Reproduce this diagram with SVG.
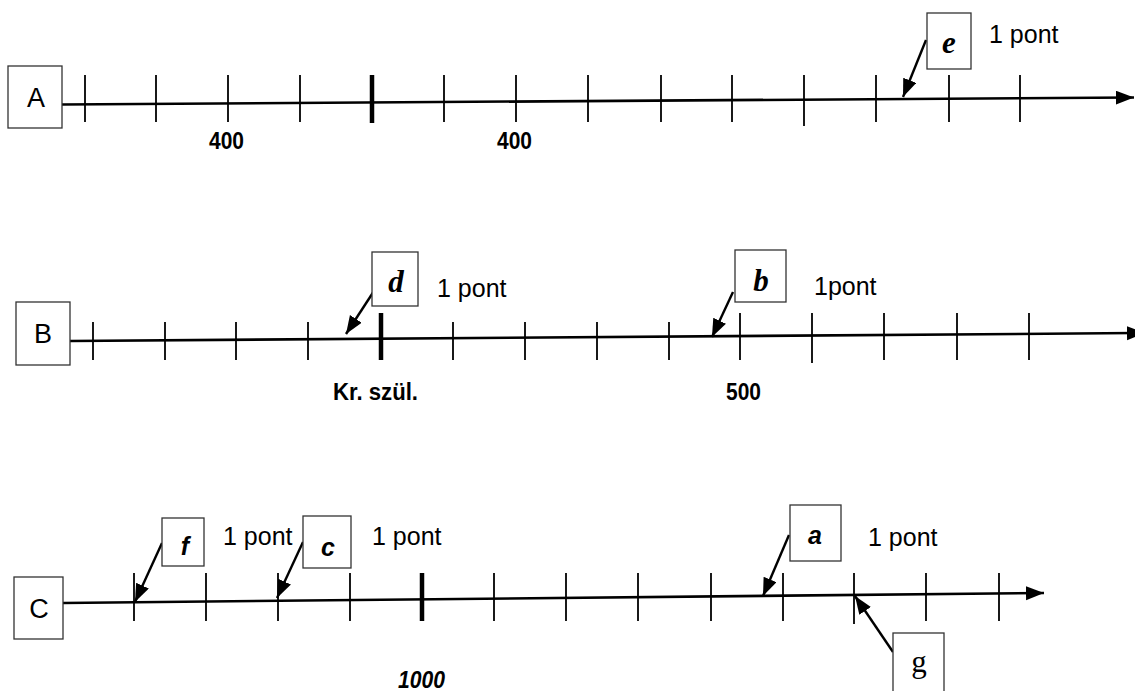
<svg xmlns="http://www.w3.org/2000/svg" width="1135" height="691" viewBox="0 0 1135 691">
<style>
.box{fill:#fff;stroke:#333;stroke-width:1.3}
.axis{stroke:#000;stroke-width:2.6;fill:none}
.tick{stroke:#000;stroke-width:1.8}
.thick{stroke:#000;stroke-width:4.5}
.ptr{stroke:#000;stroke-width:2.4;fill:none}
.lbl{font-family:"Liberation Sans",Arial,sans-serif;font-size:27px;fill:#000}
.pt{font-family:"Liberation Sans",Arial,sans-serif;font-size:25px;fill:#000}
.num{font-family:"Liberation Sans",Arial,sans-serif;font-size:23px;font-weight:bold;fill:#000}
.serifbi{font-family:"Liberation Serif","Times New Roman",serif;font-size:31px;font-weight:bold;font-style:italic;fill:#000}
.sansbi{font-family:"Liberation Sans",Arial,sans-serif;font-size:25px;font-weight:bold;font-style:italic;fill:#000}
.serif{font-family:"Liberation Serif","Times New Roman",serif;font-size:31px;fill:#000}
</style>
<defs>
<marker id="ah" markerUnits="userSpaceOnUse" markerWidth="20" markerHeight="16" refX="18" refY="7" orient="auto">
<path d="M0,0 L18,7 L0,14 Z" fill="#000"/>
</marker>
</defs>

<g id="axisA">
<line class="axis" x1="62" y1="104.5" x2="1134" y2="97.5" marker-end="url(#ah)"/>
<g class="tick">
<line x1="85" y1="75" x2="85" y2="122"/><line x1="156" y1="75" x2="156" y2="122"/>
<line x1="228" y1="75" x2="228" y2="122"/><line x1="300" y1="75" x2="300" y2="122"/>
<line x1="444" y1="75" x2="444" y2="122"/><line x1="516" y1="75" x2="516" y2="122"/>
<line x1="588" y1="75" x2="588" y2="122"/><line x1="661" y1="75" x2="661" y2="122"/>
<line x1="732" y1="75" x2="732" y2="122"/><line x1="804" y1="75" x2="804" y2="126"/>
<line x1="876" y1="75" x2="876" y2="122"/><line x1="949" y1="75" x2="949" y2="122"/>
<line x1="1020" y1="75" x2="1020" y2="122"/>
</g>
<line class="thick" x1="372" y1="75" x2="372" y2="123"/>
<text class="num" x="209" y="149" textLength="35" lengthAdjust="spacingAndGlyphs">400</text>
<text class="num" x="497" y="149" textLength="35" lengthAdjust="spacingAndGlyphs">400</text>
</g>
<g id="nodeA"><rect class="box" x="8" y="66" width="54" height="62"/><text class="lbl" x="36" y="107" text-anchor="middle">A</text></g>

<g id="axisB">
<line class="axis" x1="70" y1="341" x2="1145" y2="333" marker-end="url(#ah)"/>
<g class="tick">
<line x1="93" y1="322" x2="93" y2="360"/><line x1="165" y1="322" x2="165" y2="360"/>
<line x1="236" y1="322" x2="236" y2="360"/><line x1="308" y1="322" x2="308" y2="360"/>
<line x1="453" y1="322" x2="453" y2="360"/><line x1="525" y1="322" x2="525" y2="360"/>
<line x1="597" y1="322" x2="597" y2="360"/><line x1="669" y1="322" x2="669" y2="360"/>
<line x1="740" y1="313" x2="740" y2="360"/><line x1="812" y1="313" x2="812" y2="363"/>
<line x1="884" y1="313" x2="884" y2="360"/><line x1="957" y1="313" x2="957" y2="360"/>
<line x1="1029" y1="313" x2="1029" y2="360"/>
</g>
<line class="thick" x1="381" y1="313" x2="381" y2="360"/>
<text class="num" x="333" y="400" textLength="85" lengthAdjust="spacingAndGlyphs">Kr. szül.</text>
<text class="num" x="726" y="400" textLength="35" lengthAdjust="spacingAndGlyphs">500</text>
</g>
<g id="nodeB"><rect class="box" x="16" y="302" width="54" height="63"/><text class="lbl" x="43" y="343" text-anchor="middle">B</text></g>

<g id="axisC">
<line class="axis" x1="63" y1="603" x2="1044" y2="593" marker-end="url(#ah)"/>
<g class="tick">
<line x1="134" y1="573" x2="134" y2="621"/><line x1="206" y1="573" x2="206" y2="621"/>
<line x1="278" y1="573" x2="278" y2="621"/><line x1="350" y1="573" x2="350" y2="621"/>
<line x1="494" y1="573" x2="494" y2="621"/><line x1="566" y1="573" x2="566" y2="621"/>
<line x1="638" y1="573" x2="638" y2="621"/><line x1="711" y1="573" x2="711" y2="621"/>
<line x1="783" y1="573" x2="783" y2="621"/><line x1="854" y1="573" x2="854" y2="624"/>
<line x1="926" y1="573" x2="926" y2="621"/><line x1="999" y1="573" x2="999" y2="621"/>
</g>
<line class="thick" x1="422" y1="573" x2="422" y2="621"/>
<text class="num" x="398" y="688" font-style="italic" textLength="47" lengthAdjust="spacingAndGlyphs">1000</text>
</g>
<g id="nodeC"><rect class="box" x="14" y="577" width="49" height="62"/><text class="lbl" x="39" y="618" text-anchor="middle">C</text></g>

<g id="connectors">
<line class="ptr" x1="926" y1="40" x2="903" y2="97" marker-end="url(#ah)"/>
<line class="ptr" x1="374" y1="291" x2="346" y2="334" marker-end="url(#ah)"/>
<line class="ptr" x1="733" y1="292" x2="712" y2="337" marker-end="url(#ah)"/>
<line class="ptr" x1="162" y1="543" x2="135" y2="602" marker-end="url(#ah)"/>
<line class="ptr" x1="303" y1="542" x2="277" y2="598" marker-end="url(#ah)"/>
<line class="ptr" x1="789" y1="535" x2="763" y2="596" marker-end="url(#ah)"/>
<line class="ptr" x1="893" y1="652" x2="855" y2="596" marker-end="url(#ah)"/>
</g>

<g id="node-e"><rect class="box" x="927" y="13" width="44" height="56"/><text class="serifbi" x="949" y="53" text-anchor="middle">e</text></g>
<text class="pt" x="989" y="43">1 pont</text>

<g id="node-d"><rect class="box" x="372" y="252" width="46" height="54"/><text class="serifbi" x="396" y="292" text-anchor="middle">d</text></g>
<text class="pt" x="437" y="297">1 pont</text>

<g id="node-b"><rect class="box" x="735" y="250" width="51" height="52"/><text class="serifbi" x="761" y="291" text-anchor="middle">b</text></g>
<text class="pt" x="814" y="295">1pont</text>

<g id="node-f"><rect class="box" x="162" y="518" width="42" height="48"/><text class="sansbi" x="185" y="555" text-anchor="middle">f</text></g>
<text class="pt" x="223" y="545">1 pont</text>

<g id="node-c"><rect class="box" x="303" y="516" width="48" height="52"/><text class="sansbi" x="328" y="556" text-anchor="middle">c</text></g>
<text class="pt" x="372" y="545">1 pont</text>

<g id="node-a"><rect class="box" x="790" y="505" width="51" height="56"/><text class="sansbi" x="815" y="544" text-anchor="middle">a</text></g>
<text class="pt" x="868" y="546">1 pont</text>

<g id="node-g"><rect class="box" x="893" y="633" width="51" height="62"/><text class="serif" x="919" y="672" text-anchor="middle">g</text></g>
</svg>
